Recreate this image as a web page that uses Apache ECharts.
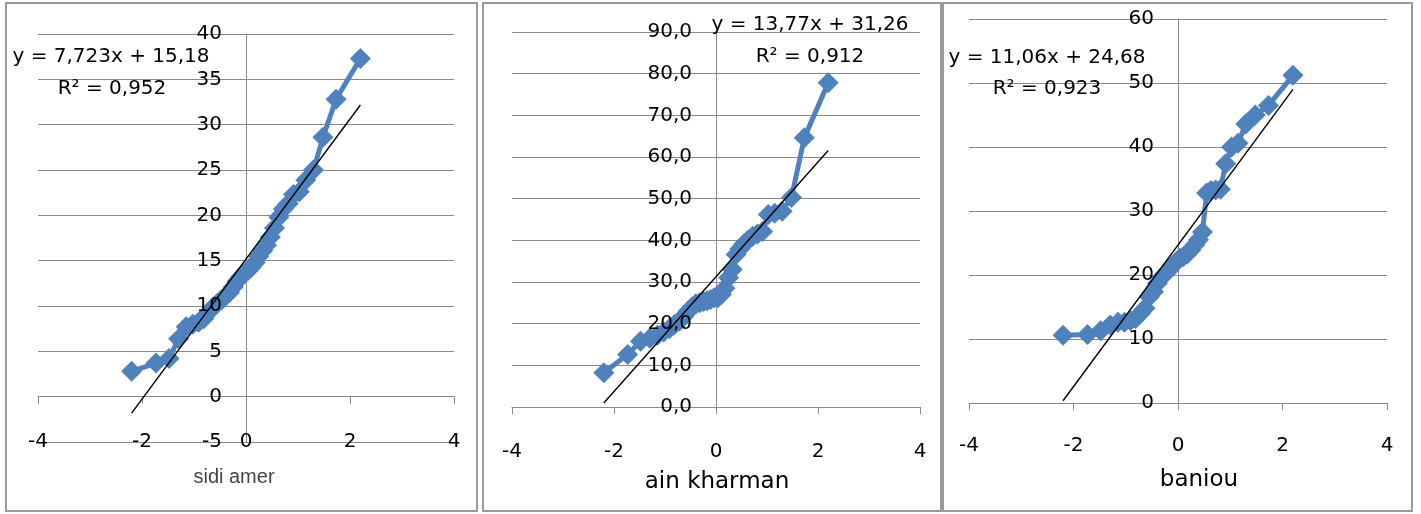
<!DOCTYPE html>
<html>
<head>
<meta charset="utf-8">
<script src="https://cdn.jsdelivr.net/npm/echarts@6/dist/echarts.min.js"></script>
<style>
  html, body { margin: 0; padding: 0; background: #fff; }
  #chart { width: 1421px; height: 514px; }
</style>
</head>
<body>
<div id="chart"></div>
<script>
// Theoretical normal quantiles (36 ranks) shared by the three stations
const theoQuantiles = [
  -2.200, -1.732, -1.480, -1.297, -1.150, -1.025, -0.913, -0.812, -0.719,
  -0.631, -0.548, -0.469, -0.393, -0.319, -0.246, -0.175, -0.105, -0.035,
   0.035,  0.105,  0.175,  0.246,  0.319,  0.393,  0.469,  0.548,  0.631,
   0.719,  0.812,  0.913,  1.025,  1.150,  1.297,  1.480,  1.732,  2.200
];

// Sorted observed values per station
const sidiAmer = [
  2.8, 3.7, 4.2, 6.4, 7.7, 8.0, 8.2, 8.6, 9.3, 9.9, 10.3, 10.7,
  11.1, 11.5, 12.1, 12.7, 13.2, 13.6, 13.9, 14.3, 14.8, 15.5, 16.1, 16.7,
  17.6, 18.6, 19.8, 20.7, 21.3, 22.3, 22.6, 23.9, 25.0, 28.6, 32.8, 37.3
];
const ainKharman = [
  8.2, 12.6, 15.8, 16.5, 17.2, 18.0, 18.8, 19.8, 20.6, 21.8, 23.0, 24.0,
  24.8, 25.0, 25.3, 25.5, 25.8, 26.2, 26.2, 27.0, 28.5, 31.0, 33.0, 36.6,
  38.0, 39.1, 40.1, 41.0, 41.5, 42.1, 46.2, 46.5, 47.0, 50.3, 64.6, 77.8
];
const baniou = [
  10.6, 10.7, 11.3, 12.2, 12.6, 12.6, 12.9, 13.2, 14.0, 14.8, 16.6, 17.4,
  18.7, 19.6, 20.2, 20.8, 21.5, 22.0, 22.6, 22.9, 23.3, 23.9, 24.7, 25.5,
  26.7, 32.8, 33.2, 33.3, 33.4, 37.4, 40.0, 40.6, 43.6, 45.0, 46.5, 51.2
];

// Linear trend coefficients and fit quality
const stationNames = ['sidi amer', 'ain kharman', 'baniou'];
const slopes = [7.723, 13.77, 11.06];
const intercepts = [15.18, 31.26, 24.68];
const rSquared = [0.952, 0.912, 0.923];

// Value axis ranges
const yMins = [-5, 0, 0];
const yMaxs = [40, 90, 60];
const yIntervals = [5, 10, 10];
const yDecimals = [0, 1, 0];
const xTicks = { min: -4, max: 4, interval: 2 };

const FONT = "'DejaVu Sans', sans-serif";
const BLUE = '#4F81BD';
const GRID_GREY = '#8a8a8a';

const panels = [
  { grid: { left: 38, top: 34, width: 416, height: 408 }, labelMargin: -10,
    eq: [111, 57], r2: [112, 89], title: [234, 477], titleFont: "20px 'Liberation Sans'", titleColor: '#444',
    box: [6, 3, 471, 508] },
  { grid: { left: 512, top: 32, width: 408, height: 375 }, labelMargin: 35,
    eq: [810, 25], r2: [810, 57], title: [717, 482], titleFont: "23px 'DejaVu Sans'", titleColor: '#000',
    box: [483, 3, 458, 508] },
  { grid: { left: 969, top: 19, width: 418, height: 384 }, labelMargin: 33,
    eq: [1047, 58], r2: [1047, 89], title: [1199, 480], titleFont: "23px 'DejaVu Sans'", titleColor: '#000',
    box: [943, 3, 469, 508] }
];

const seriesValues = [sidiAmer, ainKharman, baniou];
const comma = v => String(v).replace('.', ',');

const grids = [], xAxes = [], yAxes = [], series = [], graphics = [];

panels.forEach((p, i) => {
  grids.push(Object.assign({ show: false }, p.grid));

  const xLineIdx = i * 2;
  // distance from the grid's left edge to x = 0 on the value scale
  const zeroShift = p.grid.width * (0 - xTicks.min) / (xTicks.max - xTicks.min);

  // x axis drawn through y = 0 with outward ticks
  xAxes.push({
    type: 'value', gridIndex: i, position: 'bottom',
    min: xTicks.min, max: xTicks.max, interval: xTicks.interval,
    axisLine: { show: true, onZero: true, lineStyle: { color: GRID_GREY, width: 1 } },
    axisTick: { show: true, inside: false, length: 7, lineStyle: { color: GRID_GREY } },
    axisLabel: { show: false }, splitLine: { show: false }
  });
  // x tick labels kept at the foot of the plot
  xAxes.push({
    type: 'value', gridIndex: i, position: 'bottom',
    min: xTicks.min, max: xTicks.max, interval: xTicks.interval,
    axisLine: { show: false, onZero: false }, axisTick: { show: false },
    splitLine: { show: false },
    axisLabel: { show: true, margin: p.labelMargin, color: '#000', fontSize: 20, fontFamily: FONT },
    z: 10
  });

  // y axis: grid lines + vertical line at x = 0
  yAxes.push({
    type: 'value', gridIndex: i, position: 'left',
    min: yMins[i], max: yMaxs[i], interval: yIntervals[i],
    axisLine: { show: true, onZero: true, onZeroAxisIndex: xLineIdx, lineStyle: { color: GRID_GREY, width: 1 } },
    axisTick: { show: false }, axisLabel: { show: false },
    splitLine: { show: true, lineStyle: { color: GRID_GREY, width: 1 } }
  });
  // y tick labels beside x = 0, drawn above the data
  yAxes.push({
    type: 'value', gridIndex: i, position: 'left', offset: -zeroShift,
    min: yMins[i], max: yMaxs[i], interval: yIntervals[i],
    axisLine: { show: false, onZero: false },
    axisTick: { show: false }, splitLine: { show: false },
    axisLabel: {
      show: true, margin: 24, color: '#000', fontSize: 20, fontFamily: FONT,
      formatter: v => comma(v.toFixed(yDecimals[i]))
    },
    z: 10
  });

  const vals = seriesValues[i];
  series.push({
    type: 'line', xAxisIndex: xLineIdx, yAxisIndex: i * 2,
    data: theoQuantiles.map((q, k) => [q, vals[k]]),
    symbol: 'diamond', symbolSize: 21, showSymbol: true,
    lineStyle: { color: BLUE, width: 5 },
    itemStyle: { color: BLUE },
    silent: true, animation: false, z: 3
  });

  // fitted trend line from the stated equation
  const xa = theoQuantiles[0], xb = theoQuantiles[theoQuantiles.length - 1];
  series.push({
    type: 'line', xAxisIndex: xLineIdx, yAxisIndex: i * 2,
    data: [[xa, slopes[i] * xa + intercepts[i]], [xb, slopes[i] * xb + intercepts[i]]],
    symbol: 'none', lineStyle: { color: '#000', width: 1.4 },
    silent: true, animation: false, z: 4
  });

  // panel frame
  graphics.push({
    type: 'rect', shape: { x: p.box[0], y: p.box[1], width: p.box[2], height: p.box[3] },
    style: { fill: 'none', stroke: '#9a9a9a', lineWidth: 2 }, z: 1
  });
  // equation and R²
  graphics.push({
    type: 'text', x: p.eq[0], y: p.eq[1], z: 20,
    style: { text: 'y = ' + comma(slopes[i]) + 'x + ' + comma(intercepts[i]),
             font: "20px 'DejaVu Sans'", fill: '#000', align: 'center', verticalAlign: 'middle' }
  });
  graphics.push({
    type: 'text', x: p.r2[0], y: p.r2[1], z: 20,
    style: { text: 'R² = ' + comma(rSquared[i]),
             font: "20px 'DejaVu Sans'", fill: '#000', align: 'center', verticalAlign: 'middle' }
  });
  // station name under the x axis
  graphics.push({
    type: 'text', x: p.title[0], y: p.title[1], z: 20,
    style: { text: stationNames[i], font: p.titleFont, fill: p.titleColor,
             align: 'center', verticalAlign: 'middle' }
  });
});

const chart = echarts.init(document.getElementById('chart'), null, { renderer: 'canvas' });
chart.setOption({
  backgroundColor: '#fff',
  animation: false,
  grid: grids,
  xAxis: xAxes,
  yAxis: yAxes,
  series: series,
  graphic: graphics
});
</script>
</body>
</html>
